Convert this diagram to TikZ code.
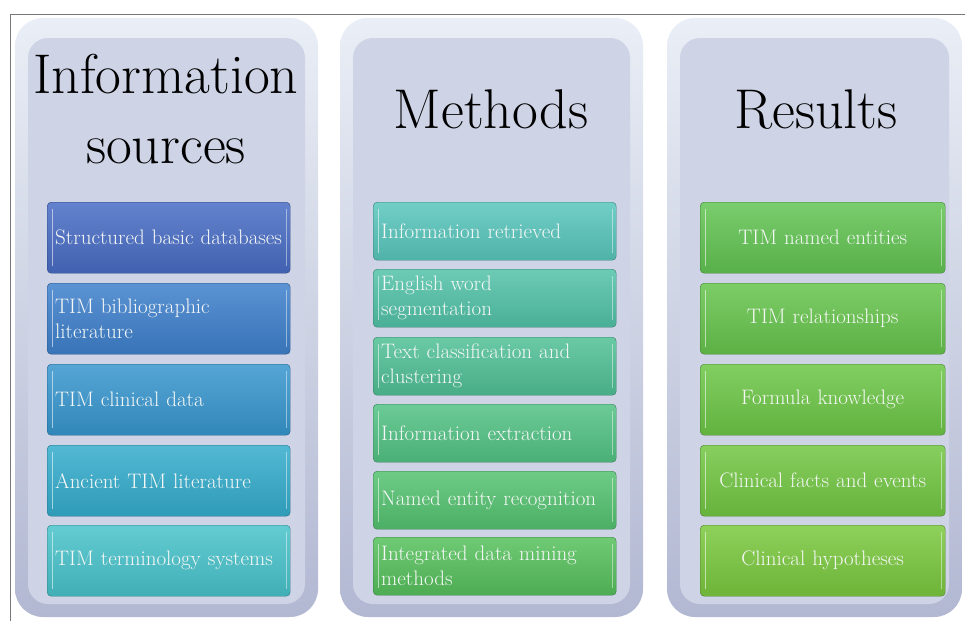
\documentclass[tikz,border=0pt]{standalone}
\usepackage{tikz}
\usetikzlibrary{positioning,calc}

\definecolor{frameline}{RGB}{120,120,120}
\definecolor{paneltop}{RGB}{234,238,246}
\definecolor{panelbot}{RGB}{178,184,210}
\definecolor{panelface}{RGB}{206,211,229}
\definecolor{boxtext}{RGB}{244,247,245}
\definecolor{sa}{RGB}{72,108,196}
\definecolor{sb}{RGB}{62,128,204}
\definecolor{sc}{RGB}{55,150,206}
\definecolor{sd}{RGB}{52,172,204}
\definecolor{se}{RGB}{72,194,202}
\definecolor{ma}{RGB}{88,198,188}
\definecolor{mb}{RGB}{82,194,168}
\definecolor{mc}{RGB}{80,192,150}
\definecolor{md}{RGB}{82,194,132}
\definecolor{me}{RGB}{84,194,112}
\definecolor{mf}{RGB}{86,192,92}
\definecolor{ra}{RGB}{98,196,82}
\definecolor{rb}{RGB}{102,196,76}
\definecolor{rc}{RGB}{108,198,70}
\definecolor{rd}{RGB}{114,198,66}
\definecolor{re}{RGB}{122,200,62}

\tikzset{
  panel/.style={top color=paneltop, bottom color=panelbot, rounded corners=28pt},
  face/.style={fill=panelface, rounded corners=20pt},
  title/.style={font=\fontsize{56}{70}\selectfont, align=center, text=black},
  tbox/.style={draw=#1!65!black, top color=#1!85!white, bottom color=#1!90!black,
    rounded corners=4pt, anchor=north west, text=boxtext, inner xsep=8pt,
    font=\fontsize{21}{25}\selectfont,
    path picture={
      \draw[white,opacity=.55,line width=1pt]
        ([xshift=5pt,yshift=-7pt]path picture bounding box.north west) --
        ([xshift=5pt,yshift=7pt]path picture bounding box.south west);
      \draw[white,opacity=.45,line width=1pt]
        ([xshift=-4pt,yshift=-7pt]path picture bounding box.north east) --
        ([xshift=-4pt,yshift=7pt]path picture bounding box.south east);
    }},
  leftbox/.style={tbox=#1, align=left, text width=227pt},
  midbox/.style={tbox=#1, align=center, text width=229pt}
}

\begin{document}
\begin{tikzpicture}[x=1pt,y=-1pt]
\useasboundingbox (0,0) rectangle (965,621);
\fill[white] (0,0) rectangle (965,621);
% frame
\draw[frameline,line width=0.8pt] (10,14) -- (965,14);
\draw[frameline,line width=0.8pt] (10,14) -- (10,621);
% panels
\shade[panel] (15,18) rectangle (318,617);
\fill[face] (28,38) rectangle (305,604);
\shade[panel] (340,18) rectangle (643,617);
\fill[face] (353,38) rectangle (630,604);
\shade[panel] (667,18) rectangle (962,617);
\fill[face] (680,38) rectangle (949,604);
% titles
\node[title, anchor=base] (srctitle) at (166,163) {Information\\sources};
\node[title, anchor=base] (mettitle) at (491,128) {Methods};
\node[title, anchor=base] (restitle) at (816,128) {Results};
% information sources
\node[leftbox=sa, minimum height=71pt] (src1) at (47,202) {Structured basic databases};
\node[leftbox=sb, minimum height=71pt] (src2) at (47,283) {TIM bibliographic\\literature};
\node[leftbox=sc, minimum height=71pt] (src3) at (47,364) {TIM clinical data};
\node[leftbox=sd, minimum height=71pt] (src4) at (47,445) {Ancient TIM literature};
\node[leftbox=se, minimum height=71pt] (src5) at (47,525) {TIM terminology systems};
% methods
\node[leftbox=ma, minimum height=58pt] (met1) at (373,202) {Information retrieved};
\node[leftbox=mb, minimum height=58pt] (met2) at (373,269) {English word\\segmentation};
\node[leftbox=mc, minimum height=58pt] (met3) at (373,337) {Text classification and\\clustering};
\node[leftbox=md, minimum height=58pt] (met4) at (373,404) {Information extraction};
\node[leftbox=me, minimum height=58pt] (met5) at (373,471) {Named entity recognition};
\node[leftbox=mf, minimum height=58pt] (met6) at (373,537) {Integrated data mining\\methods};
% results
\node[midbox=ra, minimum height=71pt] (res1) at (700,202) {TIM named entities};
\node[midbox=rb, minimum height=71pt] (res2) at (700,283) {TIM relationships};
\node[midbox=rc, minimum height=71pt] (res3) at (700,364) {Formula knowledge};
\node[midbox=rd, minimum height=71pt] (res4) at (700,445) {Clinical facts and events};
\node[midbox=re, minimum height=71pt] (res5) at (700,525) {Clinical hypotheses};
\end{tikzpicture}
\end{document}
